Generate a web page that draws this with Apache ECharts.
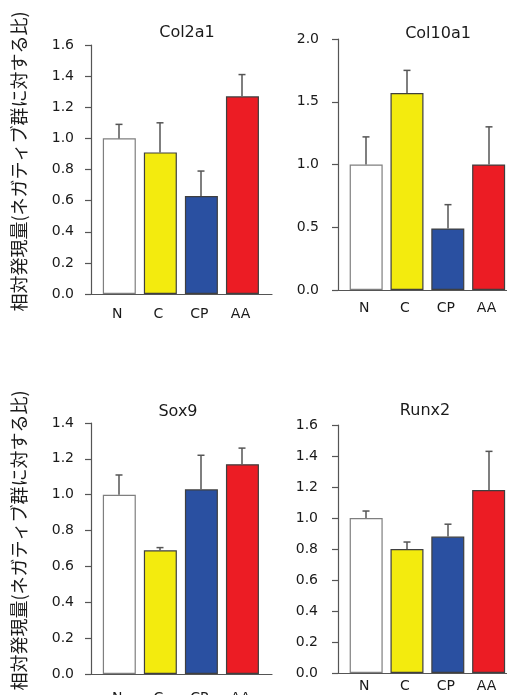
<!DOCTYPE html>
<html>
<head>
<meta charset="utf-8">
<script src="https://cdn.jsdelivr.net/npm/echarts@6/dist/echarts.min.js"></script>
<style>
  html, body { margin: 0; padding: 0; background: #ffffff; }
  #chart { width: 507px; height: 695px; }
</style>
</head>
<body>
<div id="chart"></div>
<script>
// Groups shown on every panel
const categories = ['N', 'C', 'CP', 'AA'];

// Relative expression (mean) and upper error (SD) per gene
const col2a1Mean = [1.00, 0.91, 0.63, 1.27];
const col2a1Err  = [0.09, 0.19, 0.16, 0.14];

const col10a1Mean = [1.00, 1.57, 0.49, 1.00];
const col10a1Err  = [0.22, 0.18, 0.19, 0.30];

const sox9Mean = [1.00, 0.69, 1.03, 1.17];
const sox9Err  = [0.11, 0.015, 0.19, 0.09];

const runx2Mean = [1.00, 0.80, 0.88, 1.18];
const runx2Err  = [0.045, 0.045, 0.08, 0.25];

const yAxisName = '相対発現量(ネガティブ群に対する比)';

const barColors  = ['#ffffff', '#f3eb0e', '#2a50a1', '#ec1c24'];
const barBorders = ['#7f7f7f', '#3f3f3f', '#3f3f3f', '#3f3f3f'];

const panels = [
  { name: 'Col2a1',  mean: col2a1Mean,  err: col2a1Err,  max: 1.6, interval: 0.2,
    grid: { left: 91, top: 45, width: 181, height: 249 }, xMax: 3.72,
    title: { x: 182, y: 20 }, xLabelMargin: 13, yLabelMargin: 17, showName: true },
  { name: 'Col10a1', mean: col10a1Mean, err: col10a1Err, max: 2.0, interval: 0.5,
    grid: { left: 338, top: 39, width: 169, height: 251 }, xMax: 3.45,
    title: { x: 433, y: 21 }, xLabelMargin: 11, yLabelMargin: 19, showName: false },
  { name: 'Sox9',    mean: sox9Mean,    err: sox9Err,    max: 1.4, interval: 0.2,
    grid: { left: 91, top: 423, width: 181, height: 251 }, xMax: 3.72,
    title: { x: 173, y: 399 }, xLabelMargin: 17, yLabelMargin: 17, showName: true },
  { name: 'Runx2',   mean: runx2Mean,   err: runx2Err,   max: 1.6, interval: 0.2,
    grid: { left: 338, top: 425, width: 169, height: 248 }, xMax: 3.45,
    title: { x: 420, y: 398 }, xLabelMargin: 6, yLabelMargin: 20, showName: false }
];

const tickFont = { fontFamily: 'DejaVu Sans', fontSize: 14, color: '#1a1a1a' };
const axisColor = '#555555';

const option = {
  backgroundColor: '#ffffff',
  animation: false,
  title: [],
  grid: [],
  xAxis: [],
  yAxis: [],
  series: []
};

panels.forEach((p, i) => {
  option.title.push({
    text: p.name,
    left: p.title.x,
    top: p.title.y,
    textAlign: 'center',
    textStyle: { fontFamily: 'DejaVu Sans', fontSize: 16, fontWeight: 'normal', color: '#1a1a1a' }
  });

  // Fixed plot rectangles; labels may run past the page edge
  option.grid.push(Object.assign({ containLabel: false, outerBoundsMode: 'none' }, p.grid));

  option.xAxis.push({
    type: 'value',
    gridIndex: i,
    min: -0.69,
    max: p.xMax,
    splitLine: { show: false },
    axisTick: { show: false },
    axisLine: { show: true, onZero: false, lineStyle: { color: axisColor, width: 1.2 } },
    axisLabel: Object.assign({
      customValues: [0, 1, 2, 3],
      formatter: v => categories[Math.round(v)],
      margin: p.xLabelMargin,
      padding: [0, 4, 0, 0],
      hideOverlap: false
    }, tickFont)
  });

  option.yAxis.push({
    type: 'value',
    gridIndex: i,
    min: 0,
    max: p.max,
    interval: p.interval,
    splitLine: { show: false },
    axisLine: { show: true, onZero: false, lineStyle: { color: axisColor, width: 1.2 } },
    axisTick: { show: true, inside: false, length: 6, lineStyle: { color: axisColor, width: 1.2 } },
    axisLabel: Object.assign({
      margin: p.yLabelMargin,
      formatter: v => v.toFixed(1)
    }, tickFont),
    name: p.showName ? yAxisName : '',
    nameLocation: 'middle',
    nameGap: 63,
    nameTextStyle: {
      fontFamily: 'Noto Sans CJK JP',
      fontSize: 18,
      color: '#1a1a1a',
      padding: [0, 0, 0, 16]
    }
  });

  // Bars, one colour per group
  option.series.push({
    type: 'bar',
    xAxisIndex: i,
    yAxisIndex: i,
    barWidth: 33,
    data: p.mean.map((m, k) => ({
      value: [k, m],
      itemStyle: { color: barColors[k], borderColor: barBorders[k], borderWidth: 1.2 }
    }))
  });

  // Upper error bars with a short cap
  option.series.push({
    type: 'custom',
    xAxisIndex: i,
    yAxisIndex: i,
    z: 3,
    data: p.mean.map((m, k) => [k, m, m + p.err[k]]),
    renderItem: (params, api) => {
      const base = api.coord([api.value(0), api.value(1)]);
      const top = api.coord([api.value(0), api.value(2)]);
      const x = Math.round(base[0]);
      const style = { stroke: '#555555', lineWidth: 1.5 };
      return {
        type: 'group',
        children: [
          { type: 'line', shape: { x1: x, y1: base[1], x2: x, y2: top[1] }, style },
          { type: 'line', shape: { x1: x - 3.5, y1: top[1], x2: x + 3.5, y2: top[1] }, style }
        ]
      };
    }
  });
});

const chart = echarts.init(document.getElementById('chart'), null, { renderer: 'canvas' });
chart.setOption(option);
</script>
</body>
</html>
